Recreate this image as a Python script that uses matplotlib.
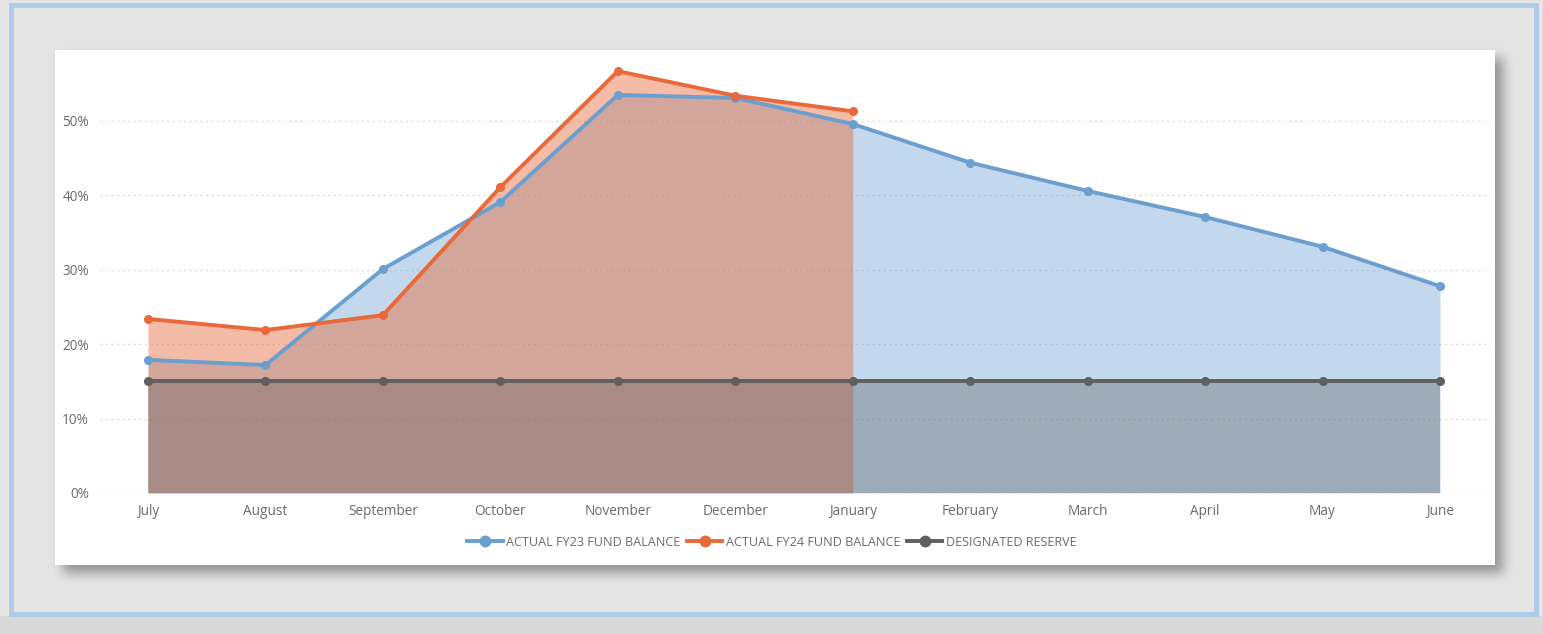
import numpy as np
import matplotlib
matplotlib.use("Agg")
import matplotlib.pyplot as plt
from matplotlib.patches import Rectangle
from matplotlib.lines import Line2D

# ---- data ----
months = ["July", "August", "September", "October", "November", "December",
          "January", "February", "March", "April", "May", "June"]
fy23 = [17.9, 17.2, 30.1, 39.1, 53.5, 53.1, 49.6, 44.4, 40.6, 37.1, 33.1, 27.8]
fy24 = [23.4, 21.9, 23.9, 41.1, 56.7, 53.4, 51.3]
reserve = [15, 15, 15, 15, 15, 15, 15, 15, 15, 15, 15, 15]
yticks = [0, 10, 20, 30, 40, 50]
ytick_labels = ["0%", "10%", "20%", "30%", "40%", "50%"]
series_names = ["ACTUAL FY23 FUND BALANCE", "ACTUAL FY24 FUND BALANCE", "DESIGNATED RESERVE"]

BLUE = "#6a9fd0"
ORANGE = "#e8693a"
GRAY = "#5f5f5f"
TXT = "#6b6b6b"

W, H = 1543, 634
plt.rcParams["font.family"] = ["Open Sans", "DejaVu Sans"]
fig = plt.figure(figsize=(W / 100, H / 100), dpi=100, facecolor="#e5e5e5")


def frac_rect(x0, y0, x1, y1, **kw):
    return Rectangle((x0 / W, 1 - y1 / H), (x1 - x0) / W, (y1 - y0) / H,
                     transform=fig.transFigure, **kw)


# bottom strip
fig.patches.append(frac_rect(0, 616, W, H, facecolor="#d9d9d9", edgecolor="none", zorder=0))
# blue outer border
fig.patches.append(frac_rect(11, 5, 1536, 614, facecolor="#e4e4e4", edgecolor="#afcbea",
                             linewidth=3.5, zorder=1))

# soft drop shadow for the white panel (blurred mask image)
mask = np.zeros((H, W), dtype=float)
mask[50 + 8:565 + 8, 55 + 8:1495 + 8] = 1.0
k = 11
kernel = np.ones(k) / k
for _ in range(3):
    mask = np.apply_along_axis(lambda r: np.convolve(r, kernel, mode="same"), 1, mask)
    mask = np.apply_along_axis(lambda c: np.convolve(c, kernel, mode="same"), 0, mask)
shadow = np.zeros((H, W, 4))
shadow[..., 3] = mask * 0.36
fig.figimage(shadow, xo=0, yo=0, origin="upper", zorder=2)

# white panel
fig.patches.append(frac_rect(55, 50, 1495, 565, facecolor="white", edgecolor="none", zorder=3))

# ---- axes ----
x_left, x_right = 100, 1490
y_bottom = 493
ymax = 58
px_per_unit = (493 - 121) / 50.0
y_top = y_bottom - ymax * px_per_unit
ax = fig.add_axes([x_left / W, 1 - y_bottom / H, (x_right - x_left) / W, (y_bottom - y_top) / H],
                  zorder=5)
ax.patch.set_alpha(0)

x_all = list(range(len(months)))
x24 = list(range(len(fy24)))
step = (1440 - 148) / 11.0
ax.set_xlim((x_left - 148) / step, (x_right - 148) / step)
ax.set_ylim(0, ymax)

ax.fill_between(x_all, 0, fy23, color=BLUE, alpha=0.4, lw=0, zorder=1)
ax.fill_between(x24, 0, fy24, color=ORANGE, alpha=0.45, lw=0, zorder=2)
ax.fill_between(x_all, 0, reserve, color=GRAY, alpha=0.37, lw=0, zorder=3)

ax.plot(x_all, fy23, color=BLUE, lw=2.8, marker="o", ms=5.5, zorder=5)
ax.plot(x24, fy24, color=ORANGE, lw=2.8, marker="o", ms=5.5, zorder=6)
ax.plot(x_all, reserve, color=GRAY, lw=2.8, marker="o", ms=5.5, zorder=7)

ax.set_yticks(yticks)
ax.set_yticklabels(ytick_labels)
ax.set_xticks(x_all)
ax.set_xticklabels(months)
ax.tick_params(axis="both", length=0, colors=TXT, labelsize=9.8)
ax.tick_params(axis="y", pad=8)
ax.tick_params(axis="x", pad=8)
ax.yaxis.grid(True, color="#dcdcdc", linestyle=(0, (1.5, 2.5)), linewidth=1)
ax.set_axisbelow(True)
for s in ax.spines.values():
    s.set_visible(False)

handles = [Line2D([], [], color=c, lw=2.8, marker="o", ms=7.5) for c in (BLUE, ORANGE, GRAY)]
leg = fig.legend(handles, series_names, loc="center", bbox_to_anchor=(772 / W, 1 - 542 / H),
                 ncol=3, frameon=False, fontsize=9.1, handlelength=2.8, handletextpad=0.3,
                 columnspacing=0.5, labelcolor=TXT)
leg.set_zorder(6)

fig.savefig("out.png", dpi=100, facecolor=fig.get_facecolor())
